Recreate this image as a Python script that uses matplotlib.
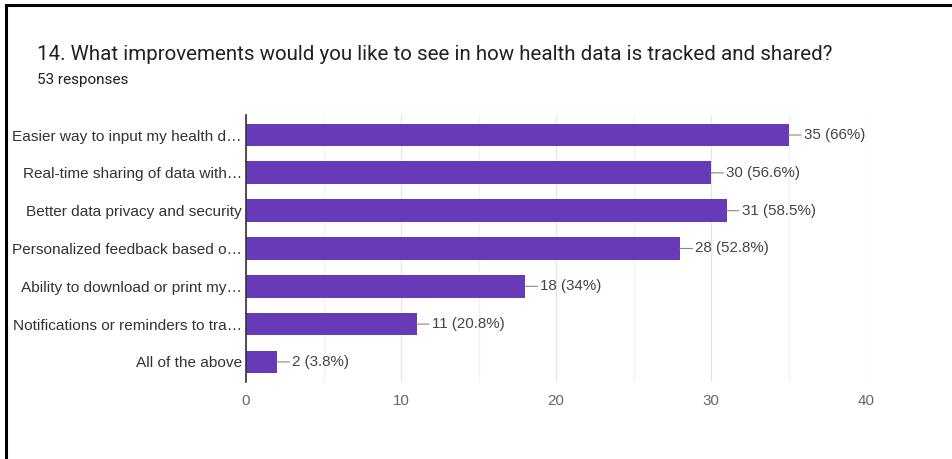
import matplotlib.pyplot as plt
from matplotlib.lines import Line2D

plt.rcParams['font.family'] = ['Liberation Sans', 'DejaVu Sans']

categories = [
    "Easier way to input my health d\u2026",
    "Real-time sharing of data with\u2026",
    "Better data privacy and security",
    "Personalized feedback based o\u2026",
    "Ability to download or print my\u2026",
    "Notifications or reminders to tra\u2026",
    "All of the above",
]
counts = [35, 30, 31, 28, 18, 11, 2]
percents = ["66%", "56.6%", "58.5%", "52.8%", "34%", "20.8%", "3.8%"]
xticks = [0, 10, 20, 30, 40]

fig = plt.figure(figsize=(9.52, 4.59), dpi=100)
ax = fig.add_axes([0.2584, 0.1678, 0.6513, 0.5817])

ypos = list(range(len(categories)))
ax.barh(ypos, counts, height=0.6, color='#673ab7', zorder=3)

for y, c, p in zip(ypos, counts, percents):
    ax.annotate(f"{c} ({p})", xy=(c, y), xytext=(11, 0), textcoords='offset points',
                va='center', ha='left', fontsize=10.9, color='#444444',
                arrowprops=dict(arrowstyle='-', color='#888888', lw=0.8,
                                shrinkA=0, shrinkB=0))

ax.set_xlim(0, 40)
ax.set_ylim(len(categories) - 0.47, -0.53)
ax.set_xticks(xticks)
ax.set_xticks(range(5, 40, 10), minor=True)
ax.set_yticks(ypos)
ax.set_yticklabels(categories, fontsize=11.1, color='#333333')
ax.tick_params(axis='y', length=0, pad=3)
ax.tick_params(axis='x', which='both', length=0, pad=9, labelsize=10.9, labelcolor='#666666')
ax.grid(axis='x', which='major', color='#e6e6e6', lw=0.9, zorder=0)
ax.grid(axis='x', which='minor', color='#f2f2f2', lw=0.9, zorder=0)
for s in ['top', 'right', 'bottom']:
    ax.spines[s].set_visible(False)
ax.spines['left'].set_color('#333333')
ax.spines['left'].set_linewidth(1.2)
ax.spines['left'].set_zorder(4)

fig.text(37 / 952, 1 - 55 / 459, "14. What improvements would you like to see in how health data is tracked and shared?",
         fontsize=14.8, color='#202124', va='center', ha='left', family=['Roboto', 'DejaVu Sans'])
fig.text(37 / 952, 1 - 80 / 459, "53 responses", fontsize=11, color='#202124', va='center', ha='left',
         family=['Roboto', 'DejaVu Sans'])

# frame around the card
fig.add_artist(Line2D([6 / 952, 6 / 952], [0, 1 - 5 / 459], color='black', lw=2.2,
                      transform=fig.transFigure))
fig.add_artist(Line2D([6 / 952, 1], [1 - 5 / 459, 1 - 5 / 459], color='black', lw=2.2,
                      transform=fig.transFigure))

fig.savefig("out.png", dpi=100, facecolor='white')
